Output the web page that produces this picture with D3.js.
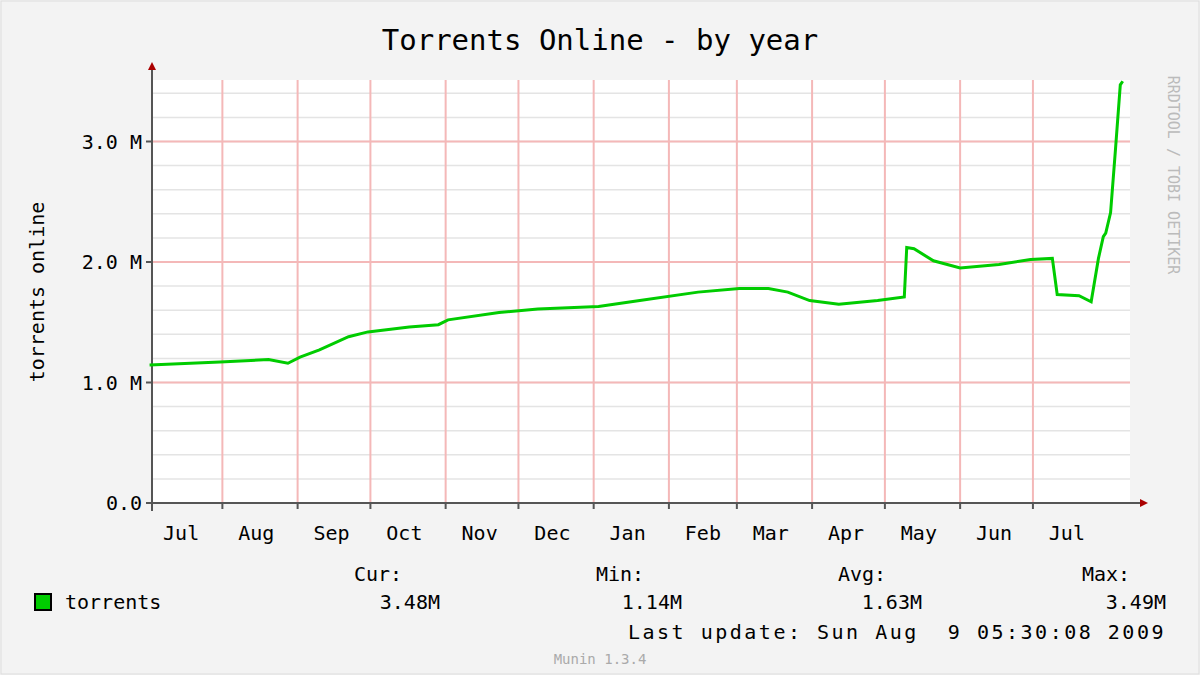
<!DOCTYPE html>
<html><head><meta charset="utf-8">
<script src="https://cdn.jsdelivr.net/npm/d3@7"></script>
<style>
body{margin:0;background:#f3f3f3}
text{font-family:"DejaVu Sans Mono",monospace;fill:#000}
</style></head>
<body><svg id="vis" width="1200" height="675"></svg>
<script>
// series: [date, millions of torrents]
var dates = ['2008-07-02','2008-07-31','2008-08-20','2008-08-28','2008-09-02','2008-09-10','2008-09-22','2008-09-30',
  '2008-10-17','2008-10-29','2008-11-02','2008-11-23','2008-12-09','2009-01-03','2009-01-20','2009-02-13','2009-03-02',
  '2009-03-14','2009-03-22','2009-03-31','2009-04-12','2009-04-28','2009-05-09','2009-05-10','2009-05-13','2009-05-21',
  '2009-06-01','2009-06-17','2009-06-30','2009-07-09','2009-07-11','2009-07-20','2009-07-25','2009-07-28','2009-07-30',
  '2009-07-31','2009-08-02','2009-08-04','2009-08-06','2009-08-07'];
var values = [1.145,1.17,1.19,1.16,1.21,1.27,1.38,1.42,1.46,1.48,1.52,1.58,1.61,1.63,1.68,1.75,1.78,1.78,1.75,1.68,
  1.65,1.68,1.71,2.12,2.11,2.01,1.95,1.98,2.02,2.03,1.73,1.72,1.67,2.03,2.21,2.24,2.41,2.93,3.47,3.50];
var monthLabels = ['Jul','Aug','Sep','Oct','Nov','Dec','Jan','Feb','Mar','Apr','May','Jun','Jul'];
var yTicks = [0,1,2,3];
var yTickLabels = ['0.0 ','1.0 M','2.0 M','3.0 M'];
var statNames = ['Cur:','Min:','Avg:','Max:'];
var statValues = ['3.48M','1.14M','1.63M','3.49M'];

var parse = d3.timeParse('%Y-%m-%d');
var data = dates.map(function(d,i){return {t: parse(d), v: values[i]};});

var svg = d3.select('#vis');
var pLeft = 152, pRight = 1130, pTop = 80, pBottom = 503;

svg.append('rect').attr('x',1).attr('y',1).attr('width',1198).attr('height',673)
  .attr('fill','#f3f3f3').attr('stroke','#ddd');
svg.append('rect').attr('x',pLeft).attr('y',pTop).attr('width',pRight-pLeft).attr('height',pBottom-pTop).attr('fill','#fff');

var x = d3.scaleTime().domain([parse('2008-07-03'), parse('2009-08-10')]).range([pLeft, pRight]);
var y = d3.scaleLinear().domain([0, 3.5]).range([pBottom, pBottom - 3.5*120.5]);

// minor horizontal grid
svg.append('g').selectAll('line').data(d3.range(0.2, 3.5, 0.2))
  .enter().append('line')
  .attr('x1',pLeft).attr('x2',pRight).attr('y1',function(d){return y(d);}).attr('y2',function(d){return y(d);})
  .attr('stroke','#e4e4e4').attr('stroke-width',1.5);
// month grid
var months = d3.timeMonth.range(parse('2008-08-01'), parse('2009-08-01'));
svg.append('g').selectAll('line').data(months).enter().append('line')
  .attr('x1',function(d){return x(d);}).attr('x2',function(d){return x(d);})
  .attr('y1',pTop).attr('y2',pBottom).attr('stroke','#f4b8b8').attr('stroke-width',2);
// major horizontal grid
svg.append('g').selectAll('line').data(yTicks.slice(1)).enter().append('line')
  .attr('x1',pLeft).attr('x2',pRight).attr('y1',function(d){return y(d);}).attr('y2',function(d){return y(d);})
  .attr('stroke','#f4b8b8').attr('stroke-width',2);

// axes
svg.append('line').attr('x1',pLeft).attr('x2',pRight+10).attr('y1',pBottom).attr('y2',pBottom).attr('stroke','#555').attr('stroke-width',2);
svg.append('line').attr('x1',pLeft).attr('x2',pLeft).attr('y1',pTop-10).attr('y2',pBottom+8).attr('stroke','#555').attr('stroke-width',2);
svg.append('path').attr('d','M'+(pRight+10)+','+(pBottom-4)+'l8,4l-8,4z').attr('fill','#a00');
svg.append('path').attr('d','M'+(pLeft-4)+','+(pTop-10)+'l4,-8l4,8z').attr('fill','#a00');

svg.append('g').selectAll('text').data(yTicks).enter().append('text')
  .attr('x',pLeft-10).attr('y',function(d){return y(d)+7;}).attr('text-anchor','end')
  .style('font-size','20px').text(function(d,i){return yTickLabels[i];});
svg.append('g').selectAll('line').data(yTicks).enter().append('line')
  .attr('x1',pLeft-6).attr('x2',pLeft).attr('y1',function(d){return y(d);}).attr('y2',function(d){return y(d);})
  .attr('stroke','#555').attr('stroke-width',2);

var mids = d3.timeMonth.range(parse('2008-07-01'), parse('2009-08-01')).map(function(d){return d3.timeDay.offset(d,14);});
svg.append('g').selectAll('text').data(mids).enter().append('text')
  .attr('x',function(d){return x(d);}).attr('y',540).attr('text-anchor','middle')
  .style('font-size','20px').text(function(d,i){return monthLabels[i];});
svg.append('g').selectAll('line').data(months).enter().append('line')
  .attr('x1',function(d){return x(d);}).attr('x2',function(d){return x(d);})
  .attr('y1',pBottom).attr('y2',pBottom+6).attr('stroke','#555').attr('stroke-width',2);

// line
svg.append('path').datum(data)
  .attr('d', d3.line().x(function(d){return x(d.t);}).y(function(d){return y(d.v);}))
  .attr('fill','none').attr('stroke','#00cc00').attr('stroke-width',3);

// texts
svg.append('text').attr('x',600).attr('y',50).attr('text-anchor','middle').style('font-size','29px').text('Torrents Online - by year');
svg.append('text').attr('transform','translate(44,292) rotate(-90)').attr('text-anchor','middle')
  .style('font-size','20px').text('torrents online');
svg.append('text').attr('transform','translate(1168,175) rotate(90)').attr('text-anchor','middle')
  .style('font-size','15px').style('fill','#bbb').text('RRDTOOL / TOBI OETIKER');

svg.append('rect').attr('x',35).attr('y',594).attr('width',16).attr('height',16).attr('fill','#00cc00').attr('stroke','#000').attr('stroke-width',2);
svg.append('text').attr('x',65).attr('y',609).style('font-size','20px').text('torrents');
var nameX = [378, 620, 862, 1106];
var valX = [440, 682, 922, 1166];
svg.append('g').selectAll('text').data(statNames).enter().append('text')
  .attr('x',function(d,i){return nameX[i];}).attr('y',581).attr('text-anchor','middle')
  .style('font-size','20px').text(function(d){return d;});
svg.append('g').selectAll('text').data(statValues).enter().append('text')
  .attr('x',function(d,i){return valX[i];}).attr('y',609).attr('text-anchor','end')
  .style('font-size','20px').text(function(d){return d;});
svg.append('text').attr('x',1166).attr('y',639).attr('text-anchor','end').style('font-size','20px')
  .style('letter-spacing','2.5px').style('white-space','pre').text('Last update: Sun Aug  9 05:30:08 2009');
svg.append('text').attr('x',600).attr('y',664).attr('text-anchor','middle').style('font-size','14px').style('fill','#aaa').text('Munin 1.3.4');
</script></body></html>
